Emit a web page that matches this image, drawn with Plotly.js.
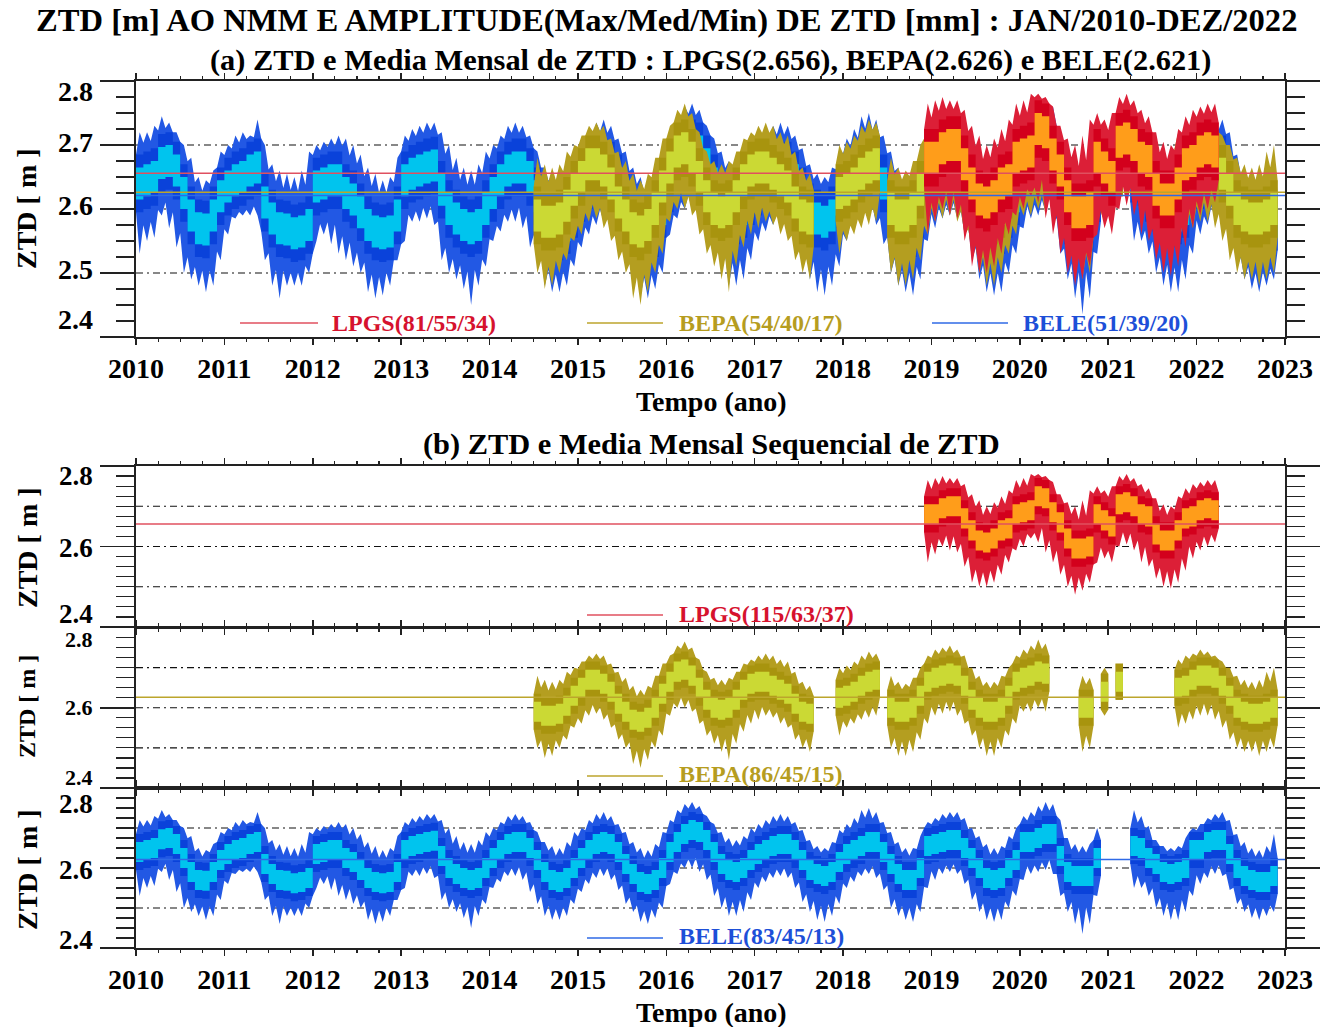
<!DOCTYPE html>
<html><head><meta charset="utf-8">
<script src="https://cdn.plot.ly/plotly-3.0.1.min.js"></script>
<style>html,body{margin:0;padding:0;background:#fff}#chart{width:1320px;height:1027px}</style>
</head><body><div id="chart"></div>
<script>
const N = null;
const gap = n => Array(n).fill(null);

// ---- tick labels / categories ----
const YEARS = [2010,2011,2012,2013,2014,2015,2016,2017,2018,2019,2020,2021,2022,2023];
const Y_TICKS_A = [2.8,2.7,2.6,2.5,2.4];
const Y_TICKS_B = [2.8,2.6,2.4];
const GRID_LEVELS = [2.5,2.6,2.7];
const STATIONS = ['LPGS','BEPA','BELE'];
const STATION_MEAN = [2.656,2.626,2.621];
const AMP_A = ['81/55/34','54/40/17','51/39/20'];
const AMP_B = ['115/63/37','86/45/15','83/45/13'];

// ---- monthly values Jan/2010 .. Dez/2022 (156 months) ----
const BELE_MED = [
2.640,2.645,2.650,2.672,2.675,2.660,2.625,2.590,2.570,2.568,2.590,2.620,
2.635,2.645,2.650,2.660,2.665,2.610,2.585,2.570,2.568,2.562,2.565,2.575,
2.635,2.640,2.645,2.645,2.625,2.615,2.595,2.575,2.565,2.562,2.565,2.590,
2.645,2.655,2.660,2.665,2.668,2.630,2.600,2.585,2.575,2.570,2.575,2.600,
2.625,2.645,2.660,2.665,2.665,2.650,2.620,2.590,2.570,2.565,2.575,2.600,
2.625,2.645,2.660,2.665,2.660,2.640,2.610,2.585,2.565,2.560,2.570,2.600,
2.640,2.665,2.685,2.695,2.690,2.670,2.640,2.610,2.595,2.590,2.600,2.620,
2.635,2.645,2.655,2.660,2.660,2.645,2.620,2.595,2.585,2.580,2.590,2.615,
2.635,2.645,2.655,2.665,2.665,2.640,2.610,2.585,2.570,2.570,2.600,2.655,
2.660,2.665,2.670,2.670,2.650,2.625,2.600,2.575,2.570,2.575,2.600,2.620,
2.665,2.665,2.675,2.685,2.685,2.630,2.590,2.580,2.580,2.580,2.625,N,
N,N,N,2.655,2.650,2.625,2.610,2.590,2.585,2.590,2.600,2.645,
2.645,2.665,2.670,2.670,2.635,2.600,2.580,2.570,2.565,2.565,2.580,N];
const BELE_MAX = [
2.720,2.720,2.730,2.745,2.735,2.720,2.700,2.680,2.650,2.645,2.660,2.690,
2.700,2.715,2.720,2.715,2.740,2.700,2.670,2.660,2.655,2.650,2.660,2.690,
2.700,2.705,2.710,2.715,2.710,2.700,2.685,2.665,2.655,2.645,2.650,2.680,
2.715,2.725,2.730,2.735,2.735,2.720,2.700,2.680,2.665,2.660,2.670,2.690,
2.700,2.715,2.730,2.735,2.730,2.715,2.690,2.665,2.655,2.650,2.665,2.690,
2.700,2.720,2.735,2.740,2.730,2.710,2.690,2.665,2.650,2.645,2.660,2.690,
2.720,2.745,2.760,2.765,2.755,2.730,2.710,2.690,2.675,2.670,2.680,2.700,
2.710,2.720,2.730,2.735,2.730,2.715,2.695,2.670,2.655,2.650,2.665,2.695,
2.710,2.725,2.745,2.750,2.740,2.715,2.690,2.665,2.650,2.650,2.680,2.715,
2.725,2.735,2.740,2.740,2.725,2.700,2.680,2.660,2.650,2.655,2.680,2.700,
2.730,2.740,2.755,2.765,2.760,2.720,2.675,2.660,2.655,2.660,2.700,N,
N,N,N,2.745,2.730,2.705,2.670,2.655,2.650,2.655,2.675,2.700,
2.710,2.725,2.735,2.740,2.720,2.685,2.665,2.650,2.645,2.655,2.685,N];
const BELE_MIN = [
2.530,2.550,2.555,2.590,2.570,2.540,2.500,2.490,2.480,2.470,2.480,2.520,
2.560,2.585,2.590,2.590,2.590,2.520,2.480,2.460,2.480,2.480,2.480,2.500,
2.550,2.560,2.545,2.530,2.520,2.510,2.500,2.470,2.460,2.465,2.480,2.520,
2.550,2.580,2.580,2.585,2.575,2.520,2.500,2.490,2.475,2.450,2.480,2.510,
2.550,2.565,2.580,2.580,2.570,2.540,2.510,2.480,2.470,2.470,2.480,2.510,
2.540,2.560,2.575,2.580,2.570,2.545,2.510,2.490,2.465,2.460,2.475,2.500,
2.560,2.585,2.600,2.600,2.590,2.570,2.530,2.500,2.480,2.480,2.490,2.520,
2.550,2.565,2.575,2.580,2.575,2.550,2.515,2.490,2.470,2.465,2.480,2.510,
2.550,2.565,2.580,2.585,2.575,2.545,2.500,2.480,2.470,2.465,2.490,2.550,
2.570,2.585,2.590,2.585,2.560,2.520,2.490,2.470,2.465,2.470,2.500,2.530,
2.570,2.585,2.590,2.595,2.585,2.530,2.490,2.460,2.435,2.460,2.530,N,
N,N,N,2.550,2.550,2.530,2.500,2.480,2.470,2.470,2.490,2.530,
2.560,2.575,2.585,2.580,2.545,2.510,2.490,2.475,2.470,2.480,2.490,N];

const BEPA_MED = [...gap(48),
N,N,N,N,N,N,2.590,2.580,2.580,2.585,2.605,2.630,
2.650,2.670,2.670,2.660,2.640,2.610,2.590,2.570,2.565,2.575,2.600,2.635,
2.665,2.690,2.695,2.680,2.650,2.620,2.600,2.595,2.600,2.620,2.645,2.660,
2.665,2.665,2.655,2.645,2.635,2.610,2.590,2.585,N,N,N,2.625,
2.630,2.640,2.655,2.665,2.670,N,2.600,2.590,2.590,2.600,2.630,2.665,
2.675,2.680,2.685,2.680,2.655,2.620,2.600,2.590,2.590,2.600,2.630,2.665,
2.675,2.680,2.690,2.685,N,N,N,N,2.600,2.600,N,2.640,
N,2.665,N,N,N,N,N,N,N,2.650,2.655,2.670,
2.680,2.680,2.675,2.655,2.630,2.600,2.590,2.585,2.585,2.590,2.600,N];
const BEPA_MAX = [...gap(48),
N,N,N,N,N,N,2.680,2.670,2.665,2.670,2.690,2.700,
2.715,2.730,2.735,2.730,2.710,2.690,2.675,2.655,2.645,2.655,2.680,2.710,
2.730,2.755,2.765,2.750,2.720,2.690,2.675,2.670,2.675,2.690,2.710,2.720,
2.730,2.735,2.730,2.720,2.715,2.690,2.665,2.655,N,N,N,2.700,
2.705,2.715,2.730,2.740,2.735,N,2.680,2.665,2.660,2.675,2.700,2.730,
2.745,2.750,2.755,2.745,2.730,2.700,2.680,2.665,2.665,2.680,2.700,2.730,
2.745,2.755,2.770,2.760,N,N,N,N,2.680,2.675,N,2.700,
N,2.700,N,N,N,N,N,N,N,2.720,2.730,2.735,
2.745,2.740,2.730,2.715,2.700,2.680,2.670,2.665,2.670,2.690,2.700,N];
const BEPA_MIN = [...gap(48),
N,N,N,N,N,N,2.500,2.475,2.480,2.500,2.520,2.550,
2.560,2.580,2.585,2.570,2.550,2.520,2.500,2.460,2.450,2.470,2.500,2.530,
2.580,2.600,2.600,2.590,2.560,2.530,2.510,2.490,2.470,2.510,2.540,2.560,
2.570,2.580,2.575,2.560,2.550,2.520,2.500,2.490,N,N,N,2.530,
2.550,2.560,2.570,2.575,2.580,N,2.500,2.480,2.480,2.490,2.520,2.560,
2.580,2.585,2.590,2.580,2.560,2.530,2.500,2.480,2.480,2.500,2.530,2.560,
2.590,2.590,2.600,2.590,N,N,N,N,2.490,2.500,N,2.580,
N,2.620,N,N,N,N,N,N,N,2.550,2.560,2.570,
2.580,2.580,2.570,2.550,2.520,2.500,2.490,2.490,2.480,2.490,2.500,N];

const LPGS_MED = [...gap(107), 2.680,
2.680,2.695,2.700,2.700,2.670,2.640,2.615,2.610,2.620,2.640,2.645,2.680,
2.685,2.690,2.725,2.720,2.685,2.660,2.620,2.595,2.595,2.600,2.680,2.665,
2.650,2.705,2.710,2.700,2.680,2.675,2.630,2.615,2.615,2.640,2.670,2.675,
2.690,2.695,2.690,...gap(9)];
const LPGS_MAX = [...gap(107), 2.765,
2.770,2.775,2.770,2.770,2.755,2.730,2.715,2.700,2.710,2.725,2.740,2.765,
2.770,2.780,2.780,2.775,2.760,2.730,2.710,2.700,2.715,2.740,2.750,2.740,
2.750,2.775,2.780,2.770,2.755,2.745,2.720,2.705,2.700,2.725,2.745,2.755,
2.760,2.765,2.765,...gap(9)];
const LPGS_MIN = [...gap(107), 2.560,
2.580,2.600,2.590,2.585,2.550,2.510,2.500,2.500,2.510,2.530,2.560,2.590,
2.600,2.620,2.610,2.585,2.560,2.530,2.500,2.480,2.490,2.510,2.560,2.570,
2.560,2.600,2.605,2.590,2.560,2.550,2.520,2.500,2.495,2.510,2.540,2.570,
2.590,2.600,2.610,...gap(9)];

// ---- styles ----
const FONT = 'Liberation Serif, Times New Roman, serif';
const COL = {
  LPGS: {env:'#dc1f37', core:'#d3001c', band:'#ff9d1a', mean:'#e0505f', text:'#d6122e'},
  BEPA: {env:'#b49e20', core:'#a8940e', band:'#cbd934', mean:'#bca52c', text:'#b69d1f'},
  BELE: {env:'#2258e4', core:'#0a42da', band:'#00c4ee', mean:'#2f6ae6', text:'#1d4fd8'}
};
const BAND_HW = 0.025, CORE_HW = 0.045, NOTCH = 0.45;
const W = 1320, H = 1027;
const px = v => v / W, py = v => 1 - v / H;

const SERIES = {
  LPGS: {med: LPGS_MED, hi: LPGS_MAX, lo: LPGS_MIN},
  BEPA: {med: BEPA_MED, hi: BEPA_MAX, lo: BEPA_MIN},
  BELE: {med: BELE_MED, hi: BELE_MAX, lo: BELE_MIN}
};

const t = i => YEARS[0] + i / 12;
const tm = i => t(i) + 1/24;
function runs(arr){
  const r = []; let s = -1;
  for (let i = 0; i <= arr.length; i++){
    const ok = i < arr.length && arr[i] != null;
    if (ok && s < 0) s = i;
    if (!ok && s >= 0){ r.push([s, i-1]); s = -1; }
  }
  return r;
}
function stepPoly(med, w){
  const xs = [], ys = [];
  for (const [a,b] of runs(med)){
    for (let i=a;i<=b;i++){ xs.push(t(i), t(i+1)); ys.push(med[i]+w, med[i]+w); }
    for (let i=b;i>=a;i--){ xs.push(t(i+1), t(i)); ys.push(med[i]-w, med[i]-w); }
    xs.push(null); ys.push(null);
  }
  return {xs, ys};
}
// ragged envelope: reaches the monthly extreme mid-month, notches back toward the core between months
function envPoly(s){
  const {med, hi, lo} = s;
  const xs = [], ys = [];
  for (const [a,b] of runs(med)){
    xs.push(t(a)); ys.push(med[a]+CORE_HW);
    for (let i=a;i<=b;i++){
      xs.push(tm(i)); ys.push(hi[i]);
      if (i<b){
        const edge = Math.max(med[i], med[i+1]) + CORE_HW, pk = Math.min(hi[i], hi[i+1]);
        xs.push(t(i+1)); ys.push(edge + NOTCH*Math.max(0, pk-edge));
      }
    }
    xs.push(t(b+1)); ys.push(med[b]+CORE_HW);
    xs.push(t(b+1)); ys.push(med[b]-CORE_HW);
    for (let i=b;i>=a;i--){
      xs.push(tm(i)); ys.push(lo[i]);
      if (i>a){
        const edge = Math.min(med[i], med[i-1]) - CORE_HW, pk = Math.max(lo[i], lo[i-1]);
        xs.push(t(i)); ys.push(edge - NOTCH*Math.max(0, edge-pk));
      }
    }
    xs.push(t(a)); ys.push(med[a]-CORE_HW);
    xs.push(null); ys.push(null);
  }
  return {xs, ys};
}
function poly(p, color, xa, ya){
  return {type:'scatter', mode:'lines', x:p.xs, y:p.ys, fill:'toself', fillcolor:color,
    line:{width:0, color:color}, xaxis:xa, yaxis:ya, hoverinfo:'skip', showlegend:false};
}
function stationTraces(name, xa, ya){
  const s = SERIES[name], c = COL[name];
  return [
    poly(envPoly(s), c.env, xa, ya),
    poly(stepPoly(s.med, CORE_HW), c.core, xa, ya),
    poly(stepPoly(s.med, BAND_HW), c.band, xa, ya)
  ];
}
function meanLine(k, xa, ya){
  const name = STATIONS[k];
  return {type:'scatter', mode:'lines', x:[YEARS[0], YEARS[YEARS.length-1]], y:[STATION_MEAN[k], STATION_MEAN[k]],
    line:{color:COL[name].mean, width:1.5}, xaxis:xa, yaxis:ya, hoverinfo:'skip', showlegend:false};
}

const traces = [];
['BELE','BEPA','LPGS'].forEach(n => traces.push(...stationTraces(n, 'x', 'y')));
[0,1,2].forEach(k => traces.push(meanLine(k, 'x', 'y')));
const SUB = [['LPGS','x2','y2'],['BEPA','x3','y3'],['BELE','x4','y4']];
SUB.forEach(([n,xa,ya],k) => { traces.push(...stationTraces(n, xa, ya)); traces.push(meanLine(k, xa, ya)); });

// ---- axes ----
const XDOM = [px(136), px(1285)];
const YDOM = {
  y:  [py(337), py(81)],
  y2: [py(627), py(466)],
  y3: [py(788), py(627.5)],
  y4: [py(948), py(788)]
};
function xaxis(anchor, labels){
  return {domain:XDOM, anchor:anchor, range:[YEARS[0], YEARS[YEARS.length-1]],
    tickmode:'array', tickvals:YEARS, ticktext:YEARS.map(String),
    ticks:'outside', ticklen:6, tickwidth:1.5, tickcolor:'#222',
    minor:{tick0:YEARS[0], dtick:0.25, ticks:'outside', ticklen:3, tickwidth:1.2, tickcolor:'#222', showgrid:false},
    showline:true, linecolor:'#222', linewidth:1.6, mirror:'allticks',
    showgrid:false, zeroline:false, showticklabels:labels, ticklabelstandoff:0,
    tickfont:{family:FONT, size:28, color:'#000', weight:'bold'}, fixedrange:true};
}
function yaxis(anchor, dom, tv){
  return {domain:dom, anchor:anchor, range:[2.4, 2.8], tickmode:'array', tickvals:tv,
    ticks:'outside', ticklen:34, tickwidth:1.5, tickcolor:'#222',
    minor:{tick0:2.4, dtick:0.025, ticks:'outside', ticklen:18, tickwidth:1.2, tickcolor:'#222', showgrid:false},
    showline:true, linecolor:'#222', linewidth:1.6, mirror:'allticks',
    showgrid:false, zeroline:false, showticklabels:false, fixedrange:true};
}

const shapes = [];
['y','y2','y3','y4'].forEach((ya,k) => {
  const xa = ['x','x2','x3','x4'][k];
  GRID_LEVELS.forEach(v => shapes.push({type:'line', xref:xa+' domain', yref:ya, x0:0, x1:1, y0:v, y1:v,
    line:{color:'#111', width:1.1, dash:'7px,4px,2px,4px'}, layer:'below'}));
});

const annotations = [];
function txt(text, x, y, size, opts){
  annotations.push(Object.assign({text:text, xref:'paper', yref:'paper', x:px(x), y:py(y), showarrow:false,
    xanchor:'center', yanchor:'middle', font:{family:FONT, size:size, color:'#000', weight:'bold'}}, opts||{}));
}
txt('ZTD [m] AO NMM E AMPLITUDE(Max/Med/Min) DE ZTD [mm] : JAN/2010-DEZ/2022', 667, 20, 32.6);
txt('(a) ZTD e Media Mensal de ZTD : ' + STATIONS.map((s,k)=>s+'('+STATION_MEAN[k].toFixed(3)+')').join(', ').replace(/, (BELE)/, ' e $1'), 710, 60, 30.4);
txt('(b) ZTD e Media Mensal Sequencial de ZTD', 711, 444, 30.4);
txt('Tempo (ano)', 711, 401, 28);
txt('Tempo (ano)', 711, 1012, 28);
[[209,28],[548,28],[707,24],[870,28]].forEach(([y,s]) => txt('ZTD [ m ]', 27, y, s, {textangle:-90}));

function ylabels(ya, vals, shifts, size){
  vals.forEach((v,i) => annotations.push({text:v.toFixed(1), xref:'paper', yref:ya, x:px(95), y:v, yshift:shifts[i],
    showarrow:false, xanchor:'right', yanchor:'middle', font:{family:FONT, size:size, color:'#000', weight:'bold'}}));
}
ylabels('y', Y_TICKS_A, [-10, 3, 4, 4, 18], 28);
ylabels('y2', Y_TICKS_B, [-10, -1, 13], 27);
ylabels('y3', Y_TICKS_B, [-12, 0, 11], 22);
ylabels('y4', Y_TICKS_B, [-16, -2, 8], 27);

const LEG_A = [[240,318,330,323],[587,663,677,323],[932,1008,1021,323]];
STATIONS.forEach((s,k) => {
  const [x0,x1,xt,y] = LEG_A[k];
  shapes.push({type:'line', xref:'paper', yref:'paper', x0:px(x0), x1:px(x1), y0:py(y), y1:py(y), line:{color:COL[s].mean, width:1.6}});
  txt(s+'('+AMP_A[k]+')', xt, y, 24, {xanchor:'left', font:{family:FONT, size:24, color:COL[s].text, weight:'bold'}});
});
const LEG_B = [[615,614],[776,774],[938,936]];
STATIONS.forEach((s,k) => {
  const [yl,yt] = LEG_B[k];
  shapes.push({type:'line', xref:'paper', yref:'paper', x0:px(587), x1:px(663), y0:py(yl), y1:py(yl), line:{color:COL[s].mean, width:1.6}});
  txt(s+'('+AMP_B[k]+')', 677, yt, 24, {xanchor:'left', font:{family:FONT, size:24, color:COL[s].text, weight:'bold'}});
});

const layout = {
  width:W, height:H, margin:{l:0,r:0,t:0,b:0}, paper_bgcolor:'#fff', plot_bgcolor:'#fff',
  showlegend:false, font:{family:FONT},
  xaxis:xaxis('y', true), xaxis2:xaxis('y2', false), xaxis3:xaxis('y3', false), xaxis4:xaxis('y4', true),
  yaxis:yaxis('x', YDOM.y, Y_TICKS_A), yaxis2:yaxis('x2', YDOM.y2, Y_TICKS_B),
  yaxis3:yaxis('x3', YDOM.y3, Y_TICKS_B), yaxis4:yaxis('x4', YDOM.y4, Y_TICKS_B),
  shapes:shapes, annotations:annotations
};
Plotly.newPlot('chart', traces, layout, {staticPlot:true, displayModeBar:false});
</script></body></html>
